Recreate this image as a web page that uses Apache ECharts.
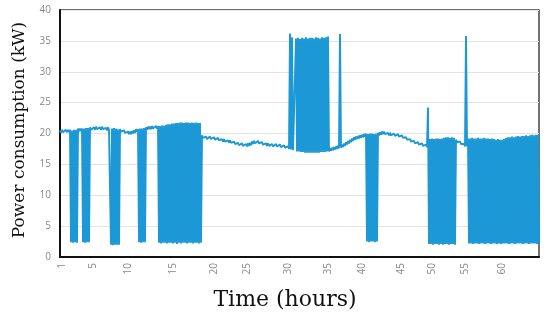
<!DOCTYPE html>
<html>
<head>
<meta charset="utf-8">
<script src="https://cdn.jsdelivr.net/npm/echarts@6/dist/echarts.min.js"></script>
<style>html,body{margin:0;padding:0;background:#fff}#c{width:550px;height:320px}</style>
</head>
<body>
<div id="c"></div>
<script>
// Per-sample envelope of the signal (kW): the trace swings between upper and lower at each sample
const upper = [
  20.5,20.6,20.5,20.6,20.6,
  20.6,20.5,20.6,20.6,
  20.8,20.8,
  20.8,20.8,20.9,20.9,
  21.0,20.9,21.0,21.1,21.0,21.0,21.1,21.0,20.9,21.0,
  20.9,20.8,20.9,20.8,20.7,
  20.7,20.6,20.5,20.4,20.3,20.3,20.4,20.5,20.7,
  20.7,20.8,20.8,20.9,
  21.0,21.1,21.1,21.2,21.1,21.2,
  21.2,21.2,21.3,21.3,21.4,21.5,21.5,21.6,21.6,21.7,21.7,21.8,21.8,21.7,21.8,21.8,21.7,21.8,21.7,21.8,21.7,21.7,
  19.7,19.5,19.5,19.4,19.5,19.4,19.4,19.3,19.3,19.2,
  19.1,19.1,19.0,18.9,18.9,18.8,18.7,18.6,18.5,18.4,
  18.4,18.3,18.3,18.4,18.5,18.7,18.8,18.7,18.8,18.6,
  18.6,18.5,18.4,18.4,18.3,18.3,18.2,18.3,18.2,18.2,
  18.1,18.1,18.0,17.9,
  36.2,35.6,17.6,
  35.4,35.5,35.3,35.5,35.4,35.6,35.4,35.5,35.5,35.4,35.6,35.5,35.4,35.6,35.5,35.6,35.7,
  17.6,17.7,17.8,17.9,18.0,
  36.1,
  18.2,18.4,18.6,18.8,19.0,19.2,19.4,19.5,19.6,19.7,19.8,19.9,
  20.0,19.9,20.0,20.0,19.9,20.0,
  20.1,20.2,20.3,20.3,20.2,20.1,20.1,20.0,20.0,19.9,19.9,19.8,19.7,19.5,19.4,19.2,19.1,19.0,18.8,18.7,18.6,18.5,18.4,18.3,18.2,
  24.2,
  19.1,19.2,19.1,19.2,19.2,19.1,19.2,19.3,19.4,19.4,19.3,19.4,19.3,
  19.0,18.9,18.7,18.5,18.3,
  35.8,
  19.2,19.2,19.3,19.2,19.2,19.3,19.2,19.2,19.3,19.2,
  19.2,19.1,19.2,19.1,19.0,19.1,19.0,19.0,19.1,
  19.3,19.4,19.4,19.5,19.4,19.5,19.6,19.5,19.6,19.6,19.7,19.6,19.7,19.8,19.7,19.8,19.8
];
const lower = [
  20.1,20.2,20.1,20.2,20.2,
  2.4,2.3,2.4,2.3,
  20.4,20.4,
  2.4,2.3,2.4,2.4,
  20.6,20.5,20.6,20.7,20.6,20.6,20.7,20.6,20.5,20.6,
  2.0,1.9,2.0,2.0,2.0,
  20.3,20.2,20.1,20.0,19.9,19.9,20.0,20.1,20.3,
  2.4,2.3,2.4,2.4,
  20.6,20.7,20.7,20.8,20.7,20.8,
  2.3,2.2,2.3,2.3,2.2,2.3,2.3,2.2,2.3,2.1,2.3,2.2,2.3,2.3,2.2,2.3,2.3,2.2,2.3,2.3,2.2,2.3,
  19.3,19.1,19.1,19.0,19.1,19.0,19.0,18.9,18.9,18.8,
  18.7,18.7,18.6,18.5,18.5,18.4,18.3,18.2,18.1,18.0,
  18.0,17.9,17.9,18.0,18.1,18.3,18.4,18.3,18.4,18.2,
  18.2,18.1,18.0,18.0,17.9,17.9,17.8,17.9,17.8,17.8,
  17.7,17.7,17.6,17.5,
  17.4,17.3,17.2,
  17.1,17.1,17.0,17.0,16.9,16.9,16.9,16.9,16.9,16.9,16.9,16.9,17.0,17.0,17.0,17.1,17.1,
  17.2,17.3,17.4,17.5,17.6,
  17.7,
  17.8,18.0,18.2,18.4,18.6,18.8,19.0,19.1,19.2,19.3,19.4,19.5,
  2.5,2.4,2.5,2.5,2.4,2.5,
  19.7,19.8,19.9,19.9,19.8,19.7,19.7,19.6,19.6,19.5,19.5,19.4,19.3,19.1,19.0,18.8,18.7,18.6,18.4,18.3,18.2,18.1,18.0,17.9,17.8,
  2.1,
  2.1,2.0,2.1,2.1,2.0,2.1,2.0,2.1,2.1,2.0,2.1,2.1,2.0,
  18.6,18.5,18.3,18.1,17.9,
  17.9,
  2.2,2.2,2.1,2.2,2.2,2.1,2.2,2.2,2.1,2.2,
  2.2,2.1,2.2,2.2,2.1,2.2,2.1,2.2,2.2,
  2.2,2.1,2.2,2.2,2.1,2.2,2.2,2.2,2.1,2.2,2.2,2.1,2.2,2.2,2.2,2.1,2.2
];
// Hour tick labels and the trace point at which each sits
const hourLabels = ['1','5','10','15','20','25','30','35','40','45','50','55','60'];
const hourPoints = [2,33,68,113,154,187,228,268,302,341,372,405,442];
const yTicks = {min: 0, max: 40, step: 5};

const values = [];
for (let i = 0; i < upper.length; i++) { values.push(upper[i], lower[i]); }
const cats = values.map((v, k) => String(k));
const labelAt = {};
hourPoints.forEach((p, j) => { labelAt[p] = hourLabels[j]; });

const chart = echarts.init(document.getElementById('c'), null, {renderer: 'canvas'});
chart.setOption({
  animation: false,
  grid: {left: 60, right: 11, top: 10, bottom: 63, show: true, borderColor: '#444', borderWidth: 1.5, containLabel: false},
  xAxis: {
    type: 'category', data: cats, boundaryGap: false,
    axisLine: {show: true, lineStyle: {color: '#111', width: 2}},
    axisTick: {show: false},
    splitLine: {show: false},
    axisLabel: {
      interval: (idx) => labelAt[idx] !== undefined,
      formatter: (val, idx) => labelAt[idx] || '',
      rotate: 90, color: '#8a8a8a', fontSize: 10, fontFamily: 'Open Sans', margin: 6
    }
  },
  yAxis: {
    type: 'value', min: yTicks.min, max: yTicks.max, interval: yTicks.step,
    axisLine: {show: true, lineStyle: {color: '#111', width: 2}},
    axisTick: {show: false},
    splitLine: {show: true, lineStyle: {color: '#e4e4e4', width: 1}},
    axisLabel: {color: '#8a8a8a', fontSize: 10, fontFamily: 'Open Sans', margin: 9}
  },
  series: [{
    type: 'line', data: values, showSymbol: false, symbol: 'none', sampling: null,
    lineStyle: {color: '#1b98d5', width: 1.9}, z: 1
  }],
  graphic: [
    {type: 'text', x: 20, y: 130, rotation: Math.PI / 2,
     style: {text: 'Power consumption (kW)', font: '17px "DejaVu Serif"', fill: '#111', textAlign: 'center', textVerticalAlign: 'middle'}},
    {type: 'text', x: 285, y: 300,
     style: {text: 'Time (hours)', font: '22px "DejaVu Serif"', fill: '#111', textAlign: 'center', textVerticalAlign: 'middle'}}
  ]
});
</script>
</body>
</html>
